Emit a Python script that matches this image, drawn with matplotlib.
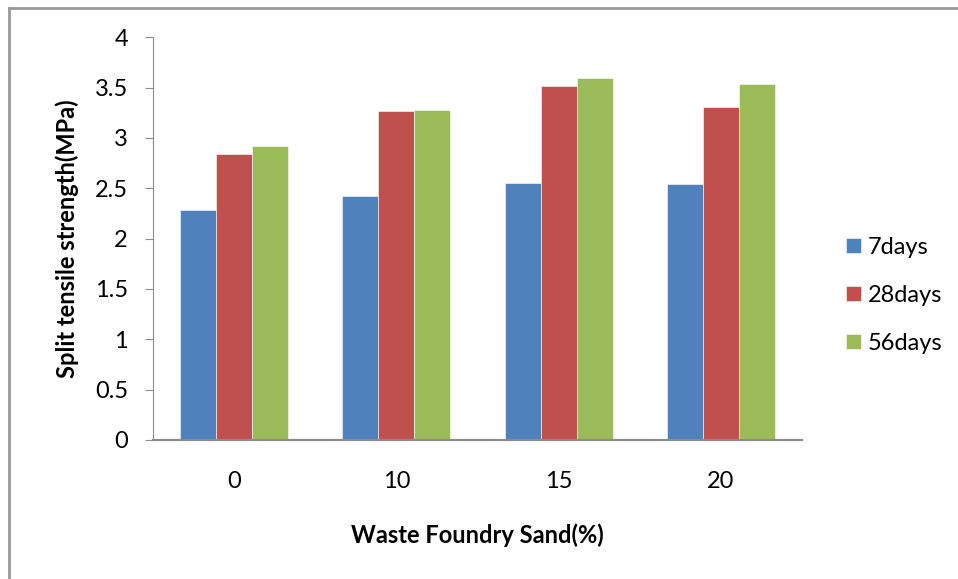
import numpy as np
import matplotlib
matplotlib.use('Agg')
import matplotlib.pyplot as plt
from matplotlib.lines import Line2D

plt.rcParams['font.family'] = ['Lato', 'DejaVu Sans']

sand_pct = ['0', '10', '15', '20']
ages = ['7days', '28days', '56days']
split_7 = [2.28, 2.42, 2.55, 2.54]
split_28 = [2.84, 3.27, 3.52, 3.31]
split_56 = [2.92, 3.28, 3.60, 3.54]
colours = ['#4F81BD', '#C0504D', '#9BBB59']

fig = plt.figure(figsize=(9.58, 5.79), dpi=100)
ax = fig.add_axes([0.1597, 0.2401, 0.6775, 0.6955])

x = np.arange(len(sand_pct))
w = 0.222
for i, (vals, lab) in enumerate(zip([split_7, split_28, split_56], ages)):
    ax.bar(x + (i - 1) * w, vals, width=w, color=colours[i], label=lab,
           edgecolor='white', linewidth=0.4)

ax.set_xlim(-0.5, 3.5)
ax.set_ylim(0, 4)
ax.set_yticks(np.arange(0, 4.01, 0.5))
ax.set_yticklabels(['0', '0.5', '1', '1.5', '2', '2.5', '3', '3.5', '4'])
ax.set_xticks(x)
ax.set_xticklabels(sand_pct)

for s in ['top', 'right']:
    ax.spines[s].set_visible(False)
ax.spines['left'].set_color('#8c8c8c')
ax.spines['bottom'].set_color('#8c8c8c')
ax.spines['bottom'].set_linewidth(1.6)
ax.tick_params(axis='y', length=6, color='#8c8c8c', labelsize=17, pad=12)
ax.tick_params(axis='x', length=0, labelsize=17, pad=22)

ax.set_xlabel('Waste Foundry Sand(%)', fontsize=17, fontweight='bold', labelpad=23)
ax.set_ylabel('Split tensile strength(MPa)', fontsize=17, fontweight='bold', labelpad=11)

ax.legend(loc='center left', bbox_to_anchor=(0.883, 0.49), bbox_transform=fig.transFigure,
          frameon=False, fontsize=17, handlelength=0.64, handleheight=0.64,
          handletextpad=0.3, labelspacing=1.15, borderpad=0, borderaxespad=0)

# outer frame lines
fig.add_artist(Line2D([0.0095, 0.0095], [0, 0.986], transform=fig.transFigure, color='#999999', lw=2))
fig.add_artist(Line2D([0.0095, 1], [0.986, 0.986], transform=fig.transFigure, color='#999999', lw=2))

fig.savefig('out.png', dpi=100)
